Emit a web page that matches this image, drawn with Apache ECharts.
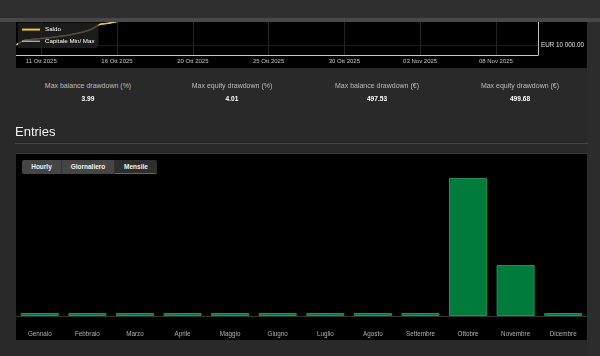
<!DOCTYPE html>
<html>
<head>
<meta charset="utf-8">
<script src="https://cdn.jsdelivr.net/npm/echarts@6/dist/echarts.min.js"></script>
<style>
  html, body { margin:0; padding:0; width:600px; height:356px; overflow:hidden; background:#292929; font-family: Arial, "Liberation Sans", sans-serif; }
  #header { position:absolute; left:0; top:0; width:600px; height:18px; background:#2f2f2f; z-index:10; }
  #headerLine { position:absolute; left:0; top:18px; width:600px; height:4px; background:#484848; z-index:10; }
  #topPanel { position:absolute; left:16px; top:-100px; width:571px; height:168px; background:#000; }
  #topChart { position:absolute; left:16px; top:-100px; width:584px; height:168px; }
  .stat { position:absolute; width:144px; text-align:center; }
  .stat .lbl { position:absolute; left:0; width:144px; top:82px; font-size:7px; color:#bdbdbd; }
  .stat .val { position:absolute; left:0; width:144px; top:94.5px; font-size:6.6px; color:#fff; font-weight:bold; }
  #entriesTitle { position:absolute; left:15px; top:124px; font-size:13px; color:#f2f2f2; }
  #entriesLine { position:absolute; left:15px; top:143px; width:573px; height:1px; background:#444; }
  #entriesPanel { position:absolute; left:16px; top:153px; width:571px; height:187px; background:#000; border-top:1px solid #3a3a3a; box-sizing:border-box; }
  #barChart { position:absolute; left:16px; top:153px; width:571px; height:187px; }
  .btn { position:absolute; top:160px; height:14px; line-height:14px; font-size:6.5px; font-weight:bold; color:#f2f2f2; text-align:center; box-sizing:border-box; z-index:5; }
  #rightStrip { position:absolute; left:587px; top:22px; width:13px; height:334px; background:#2c2c2c; }
</style>
</head>
<body>
<div id="rightStrip"></div>
<div id="topPanel"></div>
<div id="topChart"></div>
<div id="header"></div>
<div id="headerLine"></div>

<div class="stat" style="left:16px"><div class="lbl">Max balance drawdown (%)</div><div class="val">3.99</div></div>
<div class="stat" style="left:160px"><div class="lbl">Max equity drawdown (%)</div><div class="val">4.01</div></div>
<div class="stat" style="left:305px"><div class="lbl">Max balance drawdown (€)</div><div class="val">497.53</div></div>
<div class="stat" style="left:448px"><div class="lbl">Max equity drawdown (€)</div><div class="val">499.68</div></div>

<div id="entriesTitle">Entries</div>
<div id="entriesLine"></div>
<div id="entriesPanel"></div>
<div id="barChart"></div>
<div class="btn" style="left:22px;width:40px;background:#454545;border-radius:2px 0 0 2px;border-right:1px solid #333;">Hourly</div>
<div class="btn" style="left:62px;width:53px;background:#454545;border-right:1px solid #333;">Giornaliero</div>
<div class="btn" style="left:115px;width:42px;background:#2e2e2e;border-radius:0 2px 2px 0;border-bottom:1px solid #1f8c4b;">Mensile</div>

<script>
// ---- Balance chart data ----
const balanceTimes = [
'2025-10-10 09:00','2025-10-10 11:20','2025-10-10 15:40','2025-10-11 10:05',
'2025-10-13 08:30','2025-10-13 14:10','2025-10-14 09:45','2025-10-14 16:20',
'2025-10-15 08:50','2025-10-15 12:30','2025-10-15 17:05','2025-10-16 07:40',
'2025-10-16 10:15','2025-10-16 15:35','2025-10-17 09:10','2025-10-17 13:55',
'2025-10-17 18:20','2025-10-18 10:40','2025-10-19 11:00','2025-10-20 08:25',
'2025-10-20 12:45','2025-10-20 16:30','2025-10-21 09:05','2025-10-21 14:50',
'2025-10-22 08:40','2025-10-22 15:15','2025-10-23 10:20','2025-10-23 16:45',
'2025-10-24 09:30','2025-10-24 14:05','2025-10-25 10:50','2025-10-27 08:15',
'2025-10-27 13:40','2025-10-28 09:20','2025-10-28 15:55','2025-10-29 08:35',
'2025-10-29 12:10','2025-10-29 17:25','2025-10-30 09:50','2025-10-30 13:30',
'2025-10-30 16:40','2025-10-31 08:20','2025-10-31 11:05','2025-10-31 13:50',
'2025-10-31 16:15','2025-10-31 18:40','2025-11-02 22:10','2025-11-03 08:30',
'2025-11-03 13:15','2025-11-04 09:00','2025-11-04 15:20','2025-11-05 08:45',
'2025-11-05 14:30','2025-11-06 09:35','2025-11-06 16:00','2025-11-07 08:55',
'2025-11-07 14:25','2025-11-08 10:30','2025-11-08 15:45','2025-11-09 11:10',
'2025-11-09 16:35','2025-11-10 09:15','2025-11-10 14:40'
];
const balance = [
10000,10240,10290,10330,10360,10420,10480,10560,10650,10790,11040,11090,11180,
11260,11340,11310,11420,11500,11580,11650,11720,11800,11760,11870,11950,12010,
12080,12150,12120,12230,12310,12380,12470,12290,12150,12040,11972.47,12060,12140,
12230,12310,12280,12390,12460,12540,12610,12580,12670,12750,12820,12790,12880,
12950,13010,13080,13040,13120,13190,13250,13210,13300,13370,13420
];
const capitalMinMax = [
10000,10240,10290,10330,10360,10420,10480,10560,10650,10790,11040,11090,11180,
11250,11330,11300,11410,11490,11570,11640,11710,11790,11750,11860,11940,12000,
12070,12140,12110,12220,12300,12370,12460,12280,12140,12030,11970.32,12050,12130,
12220,12300,12270,12380,12450,12530,12600,12570,12660,12740,12810,12780,12870,
12940,13000,13070,13030,13110,13180,13240,13200,13290,13360,13410
];
const startCapital = 10000;
const monthNamesShort = ['Gen','Feb','Mar','Apr','Mag','Giu','Lug','Ago','Set','Ott','Nov','Dic'];
const tickEvery = 9, tickStart = 3;

// ---- Entries chart data ----
const months = ['Gennaio','Febbraio','Marzo','Aprile','Maggio','Giugno','Luglio','Agosto','Settembre','Ottobre','Novembre','Dicembre'];
const entries = [0,0,0,0,0,0,0,0,0,46,17,0];

function fmtDate(s){
  const d = s.slice(8,10), m = parseInt(s.slice(5,7),10), y = s.slice(0,4);
  return d + ' ' + monthNamesShort[m-1] + ' ' + y;
}
function showTick(i){ return i >= tickStart && (i - tickStart) % tickEvery === 0; }

const balanceChart = echarts.init(document.getElementById('topChart'));
balanceChart.setOption({
  animation:false,
  grid:{ left:0, right:62, top:10, bottom:13 },
  legend:{
    orient:'vertical', left:2, top:122.6,
    padding:[4,4,4,4], itemGap:5.6, itemWidth:18, itemHeight:9,
    backgroundColor:'rgba(36,36,36,0.75)', borderRadius:[0,0,4,0],
    textStyle:{ color:'#fff', fontSize:6.2, fontFamily:'Arial, Liberation Sans' },
    data:[
      { name:'Saldo', icon:'path://M0,0H18V2H0Z', itemStyle:{ color:'#e8c547' } },
      { name:'Capitale Min/ Max', icon:'path://M0,0H18V1H0Z', itemStyle:{ color:'#e6e6e6' } }
    ]
  },
  xAxis:{
    type:'category', data:balanceTimes, boundaryGap:false,
    axisLine:{ lineStyle:{ color:'#c8c8c8', width:1 } },
    axisTick:{ show:false },
    axisLabel:{ interval:(i)=>showTick(i), formatter:(v)=>fmtDate(v), color:'#c4c4c4', fontSize:6, margin:3.5, fontFamily:'Arial, Liberation Sans' },
    splitLine:{ show:true, interval:(i)=>showTick(i), lineStyle:{ color:'#262626', width:1 } }
  },
  yAxis:{
    type:'value', position:'right', min:9500, max:16750,
    axisLine:{ show:true, lineStyle:{ color:'#bdbdbd', width:1 } },
    axisTick:{ show:false }, axisLabel:{ show:false }, splitLine:{ show:false }
  },
  series:[
    { name:'Capitale Min/ Max', type:'line', data:capitalMinMax, symbol:'none', showSymbol:false, z:2,
      lineStyle:{ color:'#e6e6e6', width:1 }, itemStyle:{ color:'#e6e6e6' } },
    { name:'Saldo', type:'line', data:balance, symbol:'none', showSymbol:false, z:3,
      lineStyle:{ color:'#e8c547', width:1.5 }, itemStyle:{ color:'#e8c547' },
      markLine:{ silent:true, symbol:'none',
        lineStyle:{ color:'#1c1c1c', type:'solid', width:1 },
        label:{ show:true, position:'end', distance:3, color:'#e0e0e0', fontSize:6.3, fontFamily:'Arial, Liberation Sans',
                formatter:()=> 'EUR ' + startCapital.toLocaleString('en-US').replace(/,/g,' ') + '.00' },
        data:[{ yAxis:startCapital }] } }
  ]
});

const entriesChart = echarts.init(document.getElementById('barChart'));
entriesChart.setOption({
  animation:false,
  grid:{ left:0, right:0, top:25, bottom:24 },
  xAxis:{
    type:'category', data:months, offset:5,
    axisLine:{ lineStyle:{ color:'#333', width:1 } },
    axisTick:{ show:false },
    axisLabel:{ color:'#b0b0b0', fontSize:6.3, margin:10, interval:0, fontFamily:'Arial, Liberation Sans' }
  },
  yAxis:{ type:'value', min:0, max:'dataMax', show:false, splitLine:{ show:false } },
  series:[{
    type:'bar', data:entries, barWidth:'80%', barMinHeight:3,
    itemStyle:{ color:'#007b3b', borderColor:'#22904f', borderWidth:1 }
  }]
});
</script>
</body>
</html>
